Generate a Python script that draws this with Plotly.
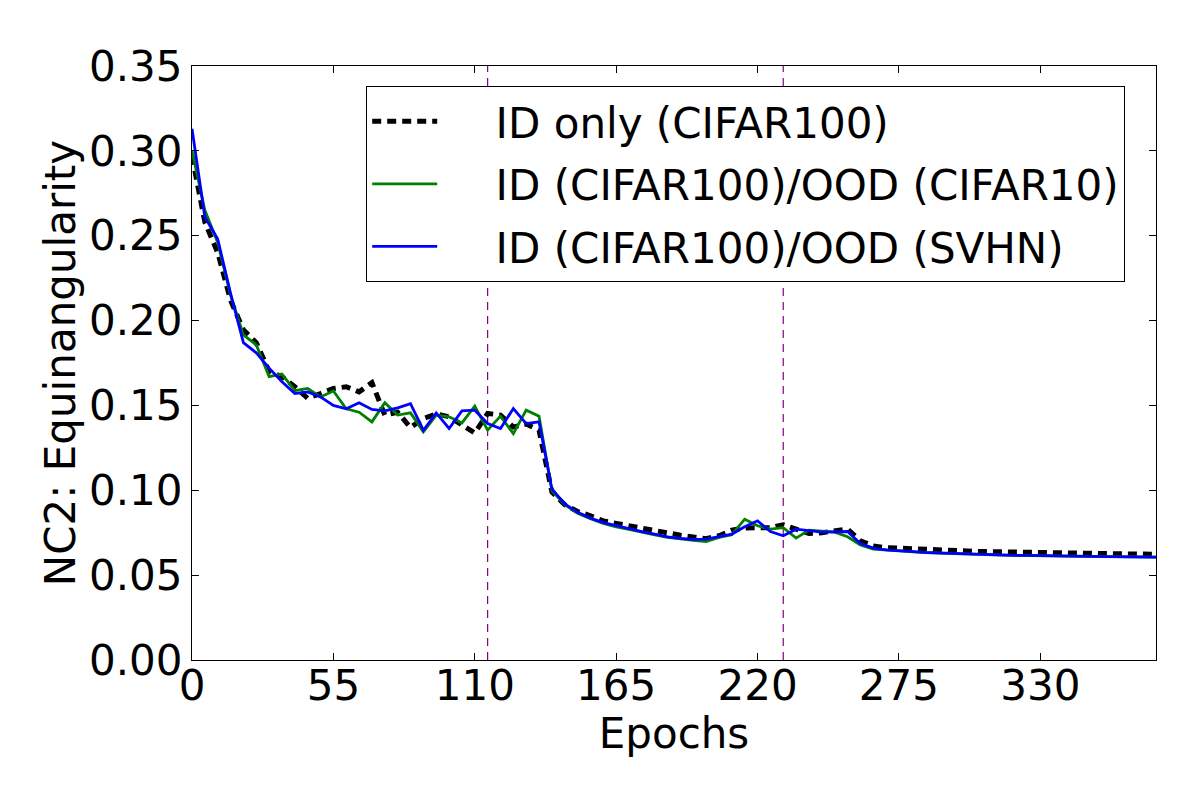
import plotly.graph_objects as go

epochs = list(range(0, 380, 5))

id_only = [
    0.297, 0.258, 0.240, 0.212, 0.1946, 0.187, 0.170, 0.167, 0.161, 0.1543,
    0.157, 0.160, 0.161, 0.158, 0.1634, 0.1443, 0.146, 0.137, 0.1423, 0.145,
    0.1433, 0.1383, 0.1338, 0.1453, 0.1443, 0.1373, 0.139, 0.1354, 0.099, 0.0915,
    0.0875, 0.085, 0.082, 0.0805, 0.079, 0.0775, 0.076, 0.0745, 0.0735, 0.0725,
    0.0715, 0.0732, 0.0765, 0.0778, 0.078, 0.078, 0.0797, 0.0771, 0.0745, 0.075,
    0.0757, 0.0771, 0.0702, 0.0672, 0.0662,
    0.0660, 0.0655, 0.0651, 0.0648, 0.0645, 0.0643, 0.0640, 0.0638, 0.0636, 0.0635,
    0.0633, 0.0632, 0.0631, 0.0630, 0.0629, 0.0628, 0.0627, 0.0626, 0.0625, 0.0624,
    0.0623,
]

ood_cifar10 = [
    0.300, 0.265, 0.246, 0.215, 0.1916, 0.1857, 0.167, 0.1685, 0.1587, 0.160,
    0.155, 0.1585, 0.148, 0.146, 0.1403, 0.1516, 0.1443, 0.1456, 0.1344, 0.1443,
    0.1433, 0.1397, 0.1496, 0.1354, 0.1437, 0.1334, 0.1472, 0.1437, 0.0998, 0.0915,
    0.0865, 0.0832, 0.0805, 0.0785, 0.077, 0.0752, 0.0737, 0.0722, 0.0712, 0.0705,
    0.0698, 0.0722, 0.0738, 0.083, 0.0791, 0.0771, 0.078, 0.0718, 0.0765, 0.0757,
    0.0753, 0.0726, 0.0678, 0.0653, 0.0647,
    0.0641, 0.0637, 0.0633, 0.0630, 0.0627, 0.0625, 0.0622, 0.0620, 0.0618, 0.0617,
    0.0615, 0.0614, 0.0613, 0.0612, 0.0611, 0.0610, 0.0609, 0.0608, 0.0607, 0.0606,
    0.0606,
]

ood_svhn = [
    0.313, 0.261, 0.248, 0.216, 0.187, 0.181, 0.172, 0.164, 0.157, 0.158,
    0.155, 0.150, 0.148, 0.1516, 0.1476, 0.1468, 0.1486, 0.151, 0.1354, 0.1456,
    0.1364, 0.1468, 0.1472, 0.1393, 0.1364, 0.1482, 0.1393, 0.1403, 0.1008, 0.092,
    0.087, 0.0836, 0.081, 0.0791, 0.0775, 0.0757, 0.0742, 0.0726, 0.0716, 0.071,
    0.0712, 0.0726, 0.0742, 0.0785, 0.082, 0.0757, 0.0732, 0.0771, 0.0761, 0.0753,
    0.0755, 0.0757, 0.0686, 0.0659, 0.0649,
    0.0643, 0.0638, 0.0634, 0.0631, 0.0628, 0.0625, 0.0623, 0.0621, 0.0619, 0.0617,
    0.0616, 0.0614, 0.0613, 0.0612, 0.0611, 0.0610, 0.0609, 0.0608, 0.0607, 0.0607,
    0.0606,
]

series_names = [
    "ID only (CIFAR100)",
    "ID (CIFAR100)/OOD (CIFAR10)",
    "ID (CIFAR100)/OOD (SVHN)",
]

x_ticks = [0, 55, 110, 165, 220, 275, 330]
y_ticks = [0.00, 0.05, 0.10, 0.15, 0.20, 0.25, 0.30, 0.35]
vlines = [115, 230]

FONT = "DejaVu Sans"
FS = 42
PAD = "\u00a0" * 4

fig = go.Figure()
fig.add_trace(go.Scatter(
    x=epochs, y=id_only, mode="lines", name=PAD + series_names[0], legendgroup="a",
    line=dict(color="black", width=5, dash="9px,6px"),
))
fig.add_trace(go.Scatter(
    x=epochs, y=ood_cifar10, mode="lines", name=PAD + series_names[1], legendgroup="b",
    line=dict(color="#008000", width=2.8),
))
fig.add_trace(go.Scatter(
    x=epochs, y=ood_svhn, mode="lines", name=PAD + series_names[2], legendgroup="c",
    line=dict(color="#0000ff", width=2.8),
))

for v in vlines:
    fig.add_vline(x=v, line=dict(color="#800080", width=1.2, dash="8px,6px"), layer="below")

axis_common = dict(
    showgrid=False, zeroline=False, showline=True, linecolor="black", linewidth=1.2,
    mirror="allticks", ticks="inside", ticklen=7, tickcolor="black", tickwidth=1,
    tickfont=dict(family=FONT, size=FS, color="black"),
)

fig.update_xaxes(
    range=[0, 375], tickvals=x_ticks, ticktext=[str(t) for t in x_ticks],
    ticklabelstandoff=-12,
    title=dict(text="Epochs", font=dict(family=FONT, size=FS, color="black"), standoff=0),
    **axis_common,
)
fig.update_yaxes(
    range=[0, 0.35], tickvals=y_ticks, ticktext=[f"{t:.2f}" for t in y_ticks],
    title=dict(text="NC2: Equinangularity", font=dict(family=FONT, size=FS, color="black"), standoff=0),
    **axis_common,
)

fig.update_layout(
    width=1200, height=800,
    margin=dict(l=184, r=52, t=58, b=148),
    paper_bgcolor="white", plot_bgcolor="white",
    font=dict(family=FONT, size=FS, color="black"),
    legend=dict(
        x=0.1805, y=0.966, xanchor="left", yanchor="top",
        bgcolor="white", bordercolor="black", borderwidth=1.2,
        font=dict(family=FONT, size=FS, color="black"),
        itemwidth=65, tracegroupgap=5,
    ),
)

fig.write_html("out.html")
